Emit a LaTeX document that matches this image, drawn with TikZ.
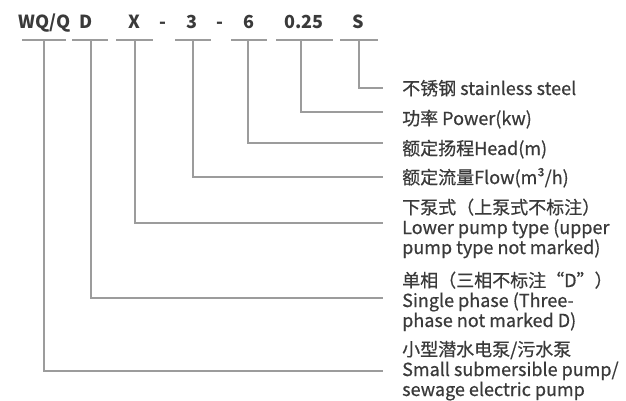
\documentclass[tikz,border=0pt]{standalone}
\usepackage{fontspec}
\setmainfont{Noto Sans CJK SC}
\newfontfamily\medfont{Noto Sans CJK SC}[FakeBold=0.6]
\definecolor{txt}{HTML}{3A3A3A}
\definecolor{linegray}{HTML}{9C9C9C}
\begin{document}
\begin{tikzpicture}[x=1pt,y=-1pt,
  conn/.style={draw=linegray,line width=1.1pt},
  code/.style={font=\fontsize{18}{22}\selectfont\bfseries,text=txt,inner sep=0pt,anchor=base},
  lab/.style={font=\medfont\fontsize{18}{20}\selectfont,text=txt,inner sep=0pt,anchor=base west,align=left}]
\useasboundingbox (0,0) rectangle (626,401);
% code letters
\node[code] (c1) at (44.5,28.5) {WQ/Q};
\node[code] (c2) at (86,28.5) {D};
\node[code] (c3) at (134.5,28.5) {X};
\node[code] (d1) at (163,28.5) {-};
\node[code] (c4) at (191.5,28.5) {3};
\node[code] (d2) at (220,28.5) {-};
\node[code] (c5) at (248.5,28.5) {6};
\node[code] (c6) at (304,28.5) {0.25};
\node[code] (c7) at (358.5,28.5) {S};
% underlines
\draw[conn] (22,40) -- (66,40);
\draw[conn] (72,40) -- (108,40);
\draw[conn] (116,40) -- (153,40);
\draw[conn] (175,40) -- (211,40);
\draw[conn] (231,40) -- (267,40);
\draw[conn] (276,40) -- (333,40);
\draw[conn] (340,40) -- (378,40);
% connector start points
\coordinate (s1) at (44,40);
\coordinate (s2) at (91,40);
\coordinate (s3) at (135,40);
\coordinate (s4) at (193,40);
\coordinate (s5) at (248,40);
\coordinate (s6) at (301,40);
\coordinate (s7) at (359,40);
% connector end points
\coordinate (e7) at (383,88);
\coordinate (e6) at (383,112);
\coordinate (e5) at (383,143);
\coordinate (e4) at (383,177);
\coordinate (e3) at (383,223);
\coordinate (e2) at (383,298);
\coordinate (e1) at (383,371);
% labels (anchored at the baseline of the last line)
\node[lab] (t7) at (402,95) {不锈钢 stainless steel};
\node[lab] (t6) at (402,125) {功率 Power(kw)};
\node[lab] (t5) at (402,155) {额定扬程Head(m)};
\node[lab] (t4) at (402,184) {额定流量Flow(m³/h)};
\node[lab] (t3) at (402,254) {下泵式（上泵式不标注）\\Lower pump type (upper\\pump type not marked)};
\node[lab] (t2) at (402,327) {单相（三相不标注“D”）\\Single phase (Three-\\phase not marked D)};
\node[lab] (t1) at (402,396) {小型潜水电泵/污水泵\\Small submersible pump/\\sewage electric pump};
% connectors
\draw[conn] (s7) |- (e7);
\draw[conn] (s6) |- (e6);
\draw[conn] (s5) |- (e5);
\draw[conn] (s4) |- (e4);
\draw[conn] (s3) |- (e3);
\draw[conn] (s2) |- (e2);
\draw[conn] (s1) |- (e1);
\end{tikzpicture}
\end{document}
